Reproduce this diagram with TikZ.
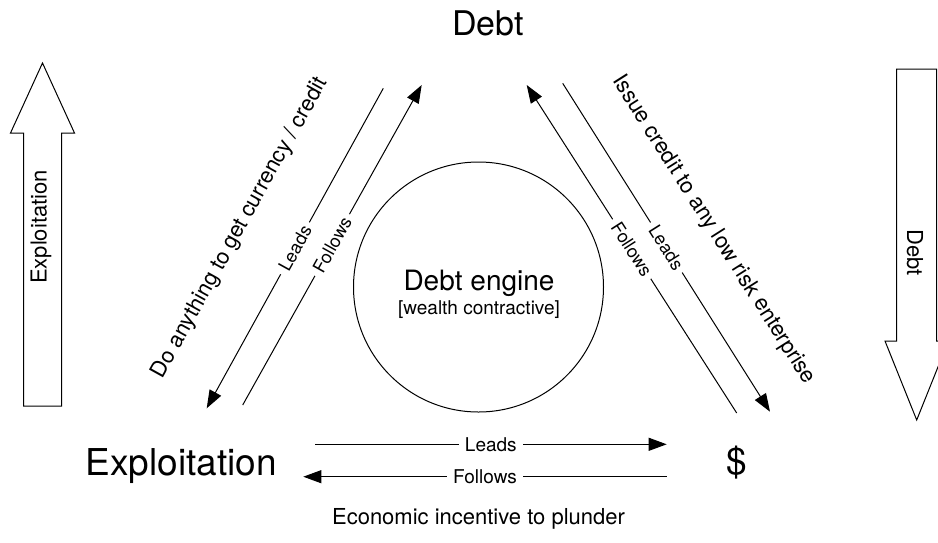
\documentclass[tikz,border=0pt]{standalone}
\usepackage{fontspec}
\setmainfont{TeX Gyre Heros}
\usetikzlibrary{arrows.meta}
\begin{document}
\begin{tikzpicture}[x=1pt,y=-1pt, line width=1pt,
  lbl/.style={font=\fontsize{18}{20}\selectfont, fill=white, inner sep=5pt, sloped, midway},
  lblb/.style={font=\fontsize{19}{21}\selectfont, fill=white, inner sep=6pt, midway},
  arr/.style={-{Triangle[length=18pt,width=13pt]}},
  bigtxt/.style={font=\fontsize{37}{40}\selectfont, inner sep=0pt},
  midtxt/.style={font=\fontsize{22}{24}\selectfont, inner sep=0pt},
  blockarrow/.style={draw, line width=1pt, line join=miter}]
\useasboundingbox (0,0) rectangle (938,542);

% corner labels
\node[anchor=base, font=\fontsize{34}{38}\selectfont, inner sep=0pt] (debt) at (488,35) {Debt};
\node[anchor=base west, bigtxt] (expl) at (85,475) {Exploitation};
\node[anchor=base, bigtxt] (dollar) at (737,474) {\$};

% engine
\node[circle, draw, minimum size=250pt, inner sep=0pt] (engine) at (478.5,287) {};
\node[anchor=base, font=\fontsize{28}{30}\selectfont, inner sep=0pt] (engt) at (479,290) {Debt engine};
\node[anchor=base, font=\fontsize{19}{21}\selectfont, inner sep=0pt] (engs) at (479,314) {[wealth contractive]};

\node[anchor=base, midtxt] (plunder) at (478.5,524) {Economic incentive to plunder};

% side block arrows
\draw[blockarrow] (23.5,406) -- (23.5,133) -- (10.5,133) -- (42.5,63) -- (74.5,133) -- (61.5,133) -- (61.5,406) -- cycle;
\node[rotate=90, midtxt] (exparr) at (41,227) {Exploitation};
\draw[blockarrow] (896.7,69) -- (896.7,341) -- (885,341) -- (916.7,420) -- (948.4,341) -- (936.7,341) -- (936.7,69) -- cycle;
\node[rotate=-90, midtxt] (debtarr) at (915,252.5) {Debt};

% diagonal descriptions
\node[rotate=61, midtxt] (doany) at (240,228) {Do anything to get currency / credit};
\node[rotate=-57.6, midtxt] (issue) at (713.5,230) {Issue credit to any low risk enterprise};

% connector end points
\coordinate (ldA) at (383.3,88.3);
\coordinate (ldB) at (206.7,408.3);
\coordinate (lfA) at (242.7,405);
\coordinate (lfB) at (421.7,85);
\coordinate (rfA) at (736.7,413);
\coordinate (rfB) at (526.7,85);
\coordinate (rlA) at (562.7,83.3);
\coordinate (rlB) at (770,411.7);
\coordinate (blA) at (315,444.3);
\coordinate (blB) at (666.7,444.3);
\coordinate (bfA) at (666.7,476.7);
\coordinate (bfB) at (303.3,476.7);

\draw[arr] (ldA) -- node[lbl] {Leads} (ldB);
\draw[arr] (lfA) -- node[lbl] {Follows} (lfB);
\draw[arr] (rfA) -- node[lbl] {Follows} (rfB);
\draw[arr] (rlA) -- node[lbl] {Leads} (rlB);
\draw[arr] (blA) -- node[lblb] {Leads} (blB);
\draw[arr] (bfA) -- node[lblb] {Follows} (bfB);
\end{tikzpicture}
\end{document}
